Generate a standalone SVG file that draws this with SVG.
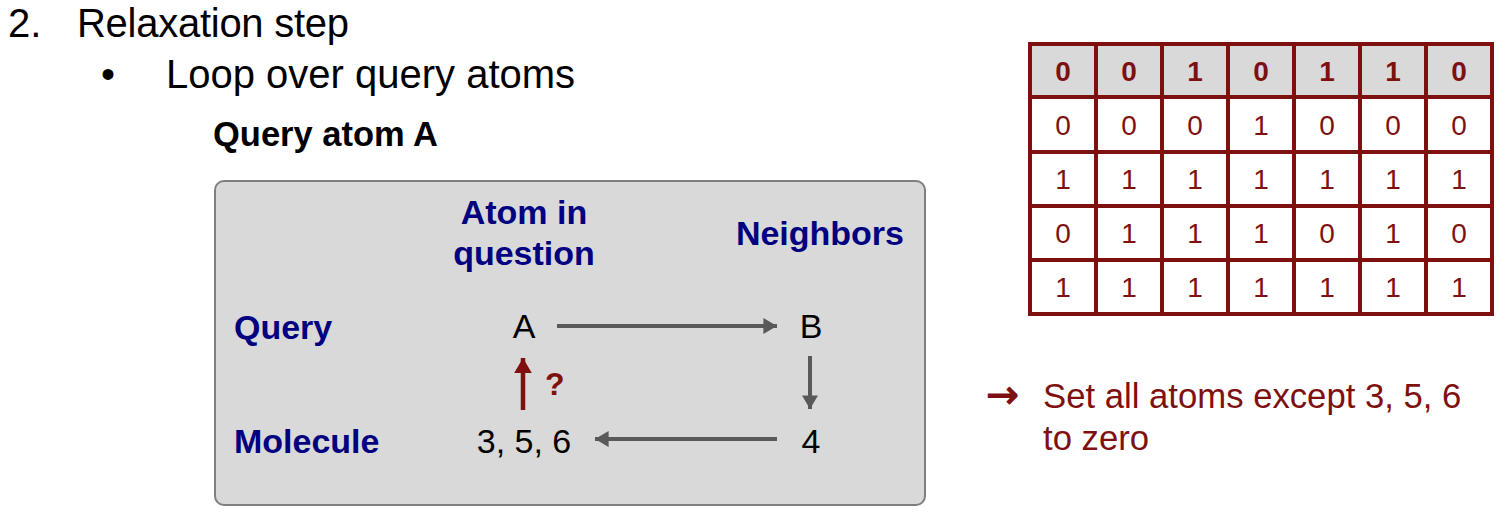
<svg xmlns="http://www.w3.org/2000/svg" width="1504" height="514" viewBox="0 0 1504 514">
<style>
text{font-family:"Liberation Sans",Arial,sans-serif}
.h{font-size:40px;fill:#000}
.navy{font-size:34px;font-weight:bold;fill:#000080}
.blk{font-size:34px;fill:#000}
.red{fill:#7f1010}
.th{font-size:28px;font-weight:bold;fill:#7f1010;text-anchor:middle}
.td{font-size:28px;fill:#7f1010;text-anchor:middle}
.conn{stroke:#595959;stroke-width:4;fill:none}
.grid{stroke:#7f1010;stroke-width:4;fill:none}
</style>
<defs>
<marker id="ag" markerWidth="4" markerHeight="4" refX="3.4" refY="2" orient="auto" markerUnits="strokeWidth" viewBox="0 0 4 4"><path d="M0,0 L3.4,2 L0,4 Z" fill="#595959"/></marker>
<marker id="ar" markerWidth="4" markerHeight="4" refX="3.4" refY="2" orient="auto" markerUnits="strokeWidth" viewBox="0 0 4 4"><path d="M0,0 L3.4,2 L0,4 Z" fill="#7f1010"/></marker>
</defs>

<g id="title">
<text class="h" x="8" y="37">2.</text>
<text class="h" x="77" y="37" textLength="272">Relaxation step</text>
<text class="h" x="101" y="88">•</text>
<text class="h" x="166" y="88">Loop over query atoms</text>
<text x="213" y="146" style="font-size:34.5px;font-weight:bold;fill:#000">Query atom A</text>
</g>

<g id="panel">
<rect x="215" y="181" width="710" height="324" rx="9" ry="9" fill="#d9d9d9" stroke="#7f7f7f" stroke-width="2"/>
<text class="navy" x="524" y="224" text-anchor="middle">Atom in</text>
<text class="navy" x="524" y="265" text-anchor="middle">question</text>
<text class="navy" x="904" y="245" text-anchor="end">Neighbors</text>
<text class="navy" x="234" y="339">Query</text>
<text class="navy" x="234" y="453">Molecule</text>
</g>

<g id="node-A"><text class="blk" x="524" y="338" text-anchor="middle">A</text></g>
<g id="node-B"><text class="blk" x="811" y="338" text-anchor="middle">B</text></g>
<g id="node-356"><text class="blk" x="524" y="453" text-anchor="middle">3, 5, 6</text></g>
<g id="node-4"><text class="blk" x="811" y="453" text-anchor="middle">4</text></g>

<g id="connectors">
<line class="conn" x1="557" y1="326" x2="777" y2="326" marker-end="url(#ag)"/>
<line class="conn" x1="810" y1="356" x2="810" y2="409" marker-end="url(#ag)"/>
<line class="conn" x1="777" y1="439" x2="595" y2="439" marker-end="url(#ag)"/>
<line x1="523" y1="410" x2="523" y2="358" stroke="#7f1010" stroke-width="4.5" marker-end="url(#ar)"/>
<text class="red" x="545" y="395" style="font-size:32px;font-weight:bold">?</text>
</g>

<g id="table">
<rect x="1030" y="44" width="462" height="53" fill="#d9d9d9"/>
<rect x="1030" y="97" width="462" height="217" fill="#fff"/>
<rect class="grid" x="1030" y="44" width="462" height="270"/>
<path class="grid" d="M1096,44V314M1162,44V314M1228,44V314M1294,44V314M1360,44V314M1426,44V314M1030,97H1492M1030,152H1492M1030,206H1492M1030,260H1492"/>
<g class="th">
<text x="1063" y="81">0</text><text x="1129" y="81">0</text><text x="1195" y="81">1</text><text x="1261" y="81">0</text><text x="1327" y="81">1</text><text x="1393" y="81">1</text><text x="1459" y="81">0</text>
</g>
<g class="td">
<text x="1063" y="135">0</text><text x="1129" y="135">0</text><text x="1195" y="135">0</text><text x="1261" y="135">1</text><text x="1327" y="135">0</text><text x="1393" y="135">0</text><text x="1459" y="135">0</text>
<text x="1063" y="189">1</text><text x="1129" y="189">1</text><text x="1195" y="189">1</text><text x="1261" y="189">1</text><text x="1327" y="189">1</text><text x="1393" y="189">1</text><text x="1459" y="189">1</text>
<text x="1063" y="243">0</text><text x="1129" y="243">1</text><text x="1195" y="243">1</text><text x="1261" y="243">1</text><text x="1327" y="243">0</text><text x="1393" y="243">1</text><text x="1459" y="243">0</text>
<text x="1063" y="297">1</text><text x="1129" y="297">1</text><text x="1195" y="297">1</text><text x="1261" y="297">1</text><text x="1327" y="297">1</text><text x="1393" y="297">1</text><text x="1459" y="297">1</text>
</g>
</g>

<g id="note">
<text class="red" x="986" y="408" stroke="#7f1010" stroke-width="1.2" style="font-size:39px;font-family:'DejaVu Sans',sans-serif">→</text>
<text class="red" x="1043" y="408" style="font-size:34.7px">Set all atoms except 3, 5, 6</text>
<text class="red" x="1043" y="450" style="font-size:34.7px">to zero</text>
</g>
</svg>
